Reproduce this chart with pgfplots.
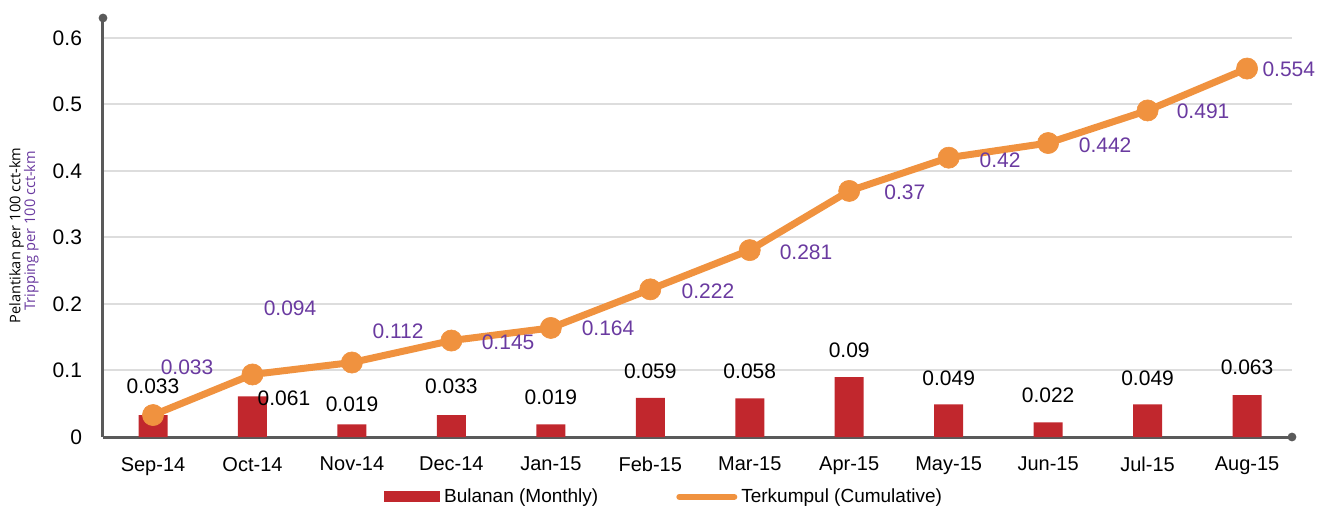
\documentclass[border=0pt]{standalone}
\usepackage{pgfplots}
\pgfplotsset{compat=1.18}
\usepackage{fontspec}
\setmainfont{Liberation Sans}
\newfontfamily\ylabfont{Open Sans}
\definecolor{barred}{HTML}{C1272D}
\definecolor{lineor}{HTML}{F0923F}
\definecolor{purp}{HTML}{6A3AA0}
\definecolor{axgray}{HTML}{5A5A5A}
\definecolor{gridgray}{HTML}{DDDDDD}
\begin{document}
\begin{tikzpicture}
\useasboundingbox (-51.5pt,-36pt) rectangle (608pt,218.5pt);
\begin{axis}[
  scale only axis, width=594.5pt, height=209.5pt,
  xmin=-0.503, xmax=11.452, ymin=0, ymax=0.63,
  clip=false,
  axis x line*=bottom, axis y line*=left,
  axis line style={axgray, line width=1.5pt, -},
  major tick length=0pt,
  ytick={0,0.1,0.2,0.3,0.4,0.5,0.6},
  yticklabels={0,0.1,0.2,0.3,0.4,0.5,0.6},
  yticklabel style={font=\fontsize{10.5}{12}\selectfont, xshift=-7pt},
  xtick={0,1,2,3,4,5,6,7,8,9,10,11},
  xticklabels={Sep-14,Oct-14,Nov-14,Dec-14,Jan-15,Feb-15,Mar-15,Apr-15,May-15,Jun-15,Jul-15,Aug-15},
  xticklabel style={font=\fontsize{10}{12}\selectfont, yshift=-6.5pt},
  ymajorgrids, grid style={gridgray, line width=1pt},
  legend style={at={(0.4727,-0.143)}, anchor=center, draw=none, fill=none,
    legend columns=2, font=\fontsize{9.5}{11}\selectfont,
    /tikz/every even column/.append style={column sep=37pt}},
]
\addplot[ybar, fill=barred, draw=none, bar width=14.5pt,
  legend image code/.code={\fill[barred] (0pt,-2.75pt) rectangle (28pt,2.75pt);}]
  coordinates {(0,0.033) (1,0.061) (2,0.019) (3,0.033) (4,0.019) (5,0.059)
               (6,0.058) (7,0.09) (8,0.049) (9,0.022) (10,0.049) (11,0.063)};
\addlegendentry{Bulanan (Monthly)}
\addplot[lineor, line width=3.5pt, mark=*, mark size=5.3pt,
  mark options={solid, fill=lineor, draw=lineor, line width=0.3pt},
  legend image code/.code={\draw[lineor, line width=3pt, line cap=round] (1.5pt,0pt) -- (29pt,0pt);}]
  coordinates {(0,0.033) (1,0.094) (2,0.112) (3,0.145) (4,0.164) (5,0.222)
               (6,0.281) (7,0.37) (8,0.42) (9,0.442) (10,0.491) (11,0.554)};
\addlegendentry{Terkumpul (Cumulative)}
% axis end dots
\fill[axgray] (rel axis cs:0,1) circle (2.2pt);
\fill[axgray] (rel axis cs:1,0) circle (2.2pt);
% monthly labels
\begin{scope}[every node/.style={font=\fontsize{10.5}{12}\selectfont, text=black, inner sep=0pt}]
\node at (axis cs:0,0.0767) {0.033};
\node at (axis cs:1.317,0.0586) {0.061};
\node at (axis cs:2.001,0.0496) {0.019};
\node at (axis cs:3,0.0767) {0.033};
\node at (axis cs:4,0.060) {0.019};
\node at (axis cs:5,0.0992) {0.059};
\node at (axis cs:6,0.0992) {0.058};
\node at (axis cs:7,0.131) {0.09};
\node at (axis cs:8,0.0887) {0.049};
\node at (axis cs:9,0.0632) {0.022};
\node at (axis cs:10,0.0887) {0.049};
\node at (axis cs:11,0.105) {0.063};
\end{scope}
% cumulative labels
\begin{scope}[every node/.style={font=\fontsize{10.5}{12}\selectfont, text=purp, inner sep=0pt}]
\node at (axis cs:0.342,0.105) {0.033};
\node at (axis cs:1.378,0.194) {0.094};
\node at (axis cs:2.464,0.159) {0.112};
\node at (axis cs:3.57,0.143) {0.145};
\node at (axis cs:4.575,0.164) {0.164};
\node at (axis cs:5.58,0.2195) {0.222};
\node at (axis cs:6.566,0.278) {0.281};
\node at (axis cs:7.56,0.368) {0.37};
\node at (axis cs:8.517,0.4165) {0.42};
\node at (axis cs:9.573,0.439) {0.442};
\node at (axis cs:10.558,0.490) {0.491};
\node at (axis cs:11.42,0.553) {0.554};
\end{scope}
% y label
\node[rotate=90, anchor=base east, inner sep=0pt, font=\ylabfont\fontsize{7.3}{9}\selectfont, text=black]
  at (rel axis cs:-0.0695,0.692) {Pelantikan per 100 cct-km};
\node[rotate=90, anchor=base east, inner sep=0pt, font=\ylabfont\fontsize{7.3}{9}\selectfont, text=purp]
  at (rel axis cs:-0.0570,0.684) {Tripping per 100 cct-km};
\end{axis}
\end{tikzpicture}
\end{document}
